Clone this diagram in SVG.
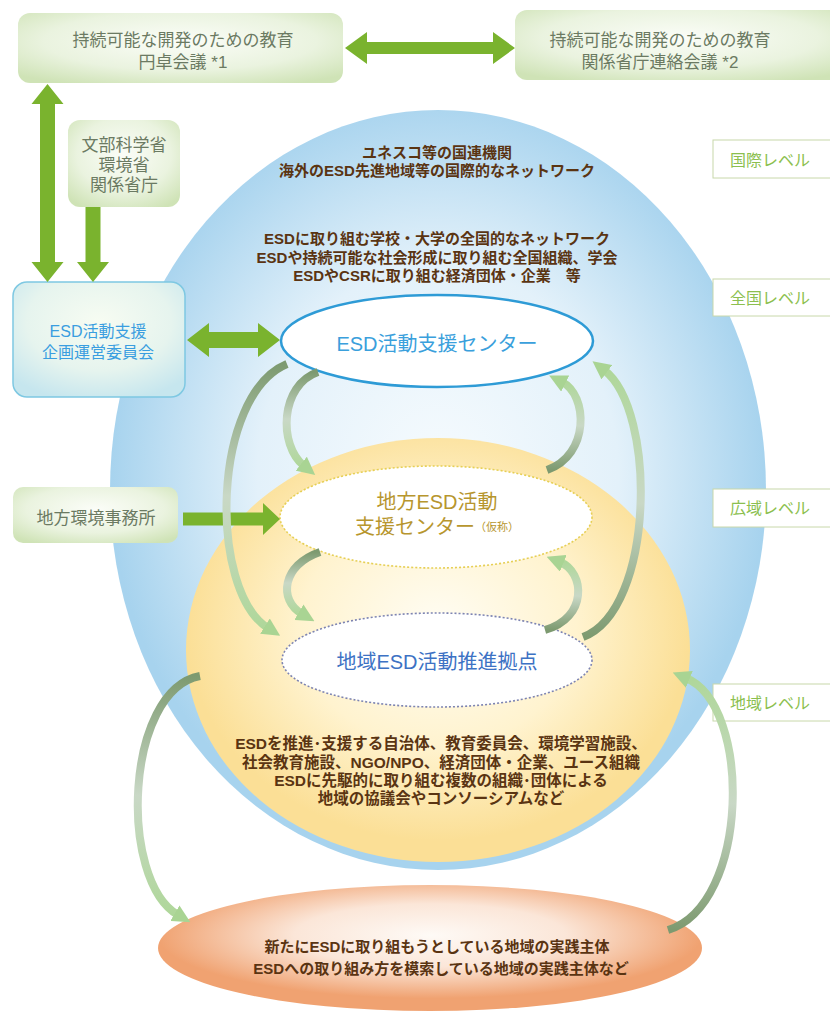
<svg xmlns="http://www.w3.org/2000/svg" width="830" height="1019" viewBox="0 0 830 1019">
<style>
text{font-family:"Liberation Sans","Noto Sans CJK JP",sans-serif;dominant-baseline:central;text-anchor:middle}
.gt{fill:#6b7a62;font-size:17px}
.bt{fill:#5a3412;font-size:15px;font-weight:bold}
.bb{fill:#5a3412;font-size:15.5px;font-weight:bold}
.lv{fill:#8cbf4f;font-size:16px}
.ga{fill:#7ab32e}
.cv{fill:none;stroke-width:8;marker-end:url(#hd)}
</style>
<defs>
<radialGradient id="gbox" cx="50%" cy="40%" r="70%"><stop offset="0" stop-color="#fbfdf8"/><stop offset="0.6" stop-color="#eaf3df"/><stop offset="1" stop-color="#cfe3b6"/></radialGradient>
<radialGradient id="cbox" cx="50%" cy="35%" r="70%"><stop offset="0" stop-color="#f7fcf2"/><stop offset="0.6" stop-color="#e6f4ee"/><stop offset="1" stop-color="#c6e6ee"/></radialGradient>
<radialGradient id="blue" cx="50%" cy="48%" r="50%"><stop offset="0" stop-color="#f6fbfe"/><stop offset="0.55" stop-color="#e3f1fa"/><stop offset="1" stop-color="#a7d3ee"/></radialGradient>
<radialGradient id="yel" cx="50%" cy="45%" r="50%"><stop offset="0" stop-color="#fffdf4"/><stop offset="0.55" stop-color="#fff3cf"/><stop offset="1" stop-color="#fbdf96"/></radialGradient>
<radialGradient id="org" cx="50%" cy="40%" r="50%"><stop offset="0" stop-color="#fefaf6"/><stop offset="0.5" stop-color="#fbe6d8"/><stop offset="1" stop-color="#f0a271"/></radialGradient>
<linearGradient id="gdn" x1="0" y1="0" x2="0" y2="1"><stop offset="0" stop-color="#7d9a70"/><stop offset="0.5" stop-color="#c9d8c6"/><stop offset="1" stop-color="#afd79a"/></linearGradient>
<linearGradient id="gup" x1="0" y1="0" x2="0" y2="1"><stop offset="0" stop-color="#afd79a"/><stop offset="0.5" stop-color="#c9d8c6"/><stop offset="1" stop-color="#7d9a70"/></linearGradient>
<marker id="hd" viewBox="0 0 10 10" refX="2" refY="5" markerWidth="18" markerHeight="18" markerUnits="userSpaceOnUse" orient="auto"><path d="M0,0 L10,5 L0,10 z" fill="#a9d493"/></marker>
</defs>
<rect width="830" height="1019" fill="#ffffff"/>

<g id="background">
<ellipse cx="438" cy="490" rx="328" ry="380" fill="url(#blue)"/>
<ellipse cx="438" cy="650" rx="252" ry="212" fill="url(#yel)"/>
</g>

<g id="texts-circle">
<text class="bt" x="437" y="152">ユネスコ等の国連機関</text>
<text class="bt" x="437" y="170">海外のESD先進地域等の国際的なネットワーク</text>
<text class="bt" x="437" y="238">ESDに取り組む学校・大学の全国的なネットワーク</text>
<text class="bt" x="437" y="257">ESDや持続可能な社会形成に取り組む全国組織、学会</text>
<text class="bt" x="437" y="275">ESDやCSRに取り組む経済団体・企業　等</text>
<text class="bb" x="441" y="743">ESDを推進･支援する自治体、教育委員会、環境学習施設、</text>
<text class="bb" x="441" y="762">社会教育施設、NGO/NPO、経済団体・企業、ユース組織</text>
<text class="bb" x="441" y="780">ESDに先駆的に取り組む複数の組織･団体による</text>
<text class="bb" x="441" y="798">地域の協議会やコンソーシアムなど</text>
</g>

<g id="node-roundtable">
<rect x="18" y="13" width="325" height="70" rx="12" fill="url(#gbox)"/>
<text class="gt" x="183" y="40">持続可能な開発のための教育</text>
<text class="gt" x="183" y="62">円卓会議 *1</text>
</g>
<g id="node-liaison">
<rect x="515" y="10" width="330" height="70" rx="12" fill="url(#gbox)"/>
<text class="gt" x="660" y="40">持続可能な開発のための教育</text>
<text class="gt" x="660" y="62">関係省庁連絡会議 *2</text>
</g>
<g id="node-ministries">
<rect x="68" y="120" width="112" height="87" rx="12" fill="url(#gbox)"/>
<text class="gt" x="124" y="145">文部科学省</text>
<text class="gt" x="124" y="165">環境省</text>
<text class="gt" x="124" y="185">関係省庁</text>
</g>
<g id="node-committee">
<rect x="13" y="282" width="172" height="115" rx="14" fill="url(#cbox)" stroke="#7ec8e2" stroke-width="1.5"/>
<text x="98" y="331" style="fill:#3a9ee0;font-size:16px">ESD活動支援</text>
<text x="98" y="352" style="fill:#3a9ee0;font-size:16px">企画運営委員会</text>
</g>
<g id="node-regional-office">
<rect x="13" y="487" width="165" height="56" rx="10" fill="url(#gbox)"/>
<text class="gt" x="96" y="518">地方環境事務所</text>
</g>

<g id="node-center">
<ellipse cx="437" cy="341" rx="156" ry="46" fill="#ffffff" stroke="#2e9bd6" stroke-width="2.5"/>
<text x="437" y="344" style="fill:#3aa0dc;font-size:20px">ESD活動支援センター</text>
</g>
<g id="node-regional-center">
<ellipse cx="436" cy="517" rx="156" ry="51" fill="#ffffff" stroke="#e6cf55" stroke-width="1.6" stroke-dasharray="2 2"/>
<text x="437" y="502" style="fill:#b7962e;font-size:20px">地方ESD活動</text>
<text x="437" y="527" style="fill:#b7962e;font-size:20px">支援センター<tspan style="font-size:11px">（仮称）</tspan></text>
</g>
<g id="node-local">
<ellipse cx="437" cy="660" rx="155" ry="47" fill="#ffffff" stroke="#7d84b2" stroke-width="1.6" stroke-dasharray="2 2"/>
<text x="437" y="662" style="fill:#3d72c4;font-size:20px">地域ESD活動推進拠点</text>
</g>
<g id="node-new">
<ellipse cx="430" cy="948" rx="272" ry="63" fill="url(#org)"/>
<text class="bt" x="437" y="946">新たにESDに取り組もうとしている地域の実践主体</text>
<text class="bt" x="441" y="968">ESDへの取り組み方を模索している地域の実践主体など</text>
</g>

<g id="levels">
<g id="level-intl"><rect x="713" y="140" width="130" height="38" fill="#fff" stroke="#c8d8aa"/><text class="lv" x="770" y="160">国際レベル</text></g>
<g id="level-national"><rect x="713" y="279" width="130" height="37" fill="#fff" stroke="#c8d8aa"/><text class="lv" x="770" y="298">全国レベル</text></g>
<g id="level-wide"><rect x="713" y="489" width="130" height="38" fill="#fff" stroke="#c8d8aa"/><text class="lv" x="770" y="508">広域レベル</text></g>
<g id="level-local"><rect x="713" y="684" width="130" height="37" fill="#fff" stroke="#c8d8aa"/><text class="lv" x="770" y="703">地域レベル</text></g>
</g>

<g id="connectors">
<polygon class="ga" points="345,48 367,32 367,42 493,42 493,32 515,48 493,64 493,54 367,54 367,64"/>
<polygon class="ga" points="47.5,84 63.5,104 55,104 55,262 63.5,262 47.5,282 31.5,262 40,262 40,104 31.5,104"/>
<polygon class="ga" points="85.5,207 100.5,207 100.5,262 109,262 93,282 77,262 85.5,262"/>
<polygon class="ga" points="187,340 209,323 209,332 258,332 258,323 280,340 258,357 258,348 209,348 209,357"/>
<polygon class="ga" points="183,512.5 263,512.5 263,503 280,519 263,535 263,525.5 183,525.5"/>
<path class="cv" stroke="url(#gdn)" d="M 287 364 C 212 395, 208 590, 268 628"/>
<path class="cv" stroke="url(#gdn)" d="M 318 372 C 280 385, 278 445, 304 466"/>
<path class="cv" stroke="url(#gdn)" d="M 320 552 C 282 565, 278 600, 302 614"/>
<path class="cv" stroke="url(#gup)" d="M 547 470 C 590 455, 588 395, 562 382"/>
<path class="cv" stroke="url(#gup)" d="M 545 630 C 588 618, 585 572, 560 562"/>
<path class="cv" stroke="url(#gup)" d="M 583 637 C 655 610, 657 410, 604 370"/>
<path class="cv" stroke="url(#gdn)" d="M 200 676 C 125 690, 118 880, 178 915"/>
<path class="cv" stroke="url(#gup)" d="M 668 930 C 750 905, 752 705, 686 678"/>
</g>
</svg>
